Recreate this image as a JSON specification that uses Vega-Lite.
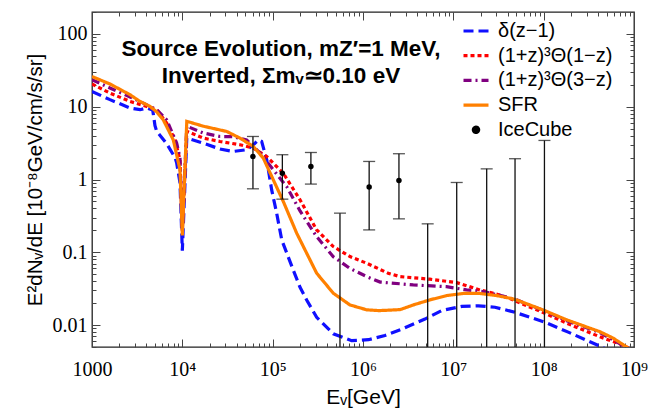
{
  "$schema": "https://vega.github.io/schema/vega-lite/v6.json",
  "width": 542,
  "height": 335,
  "autosize": {"type": "none"},
  "padding": {"left": 92, "top": 12, "right": 36, "bottom": 61},
  "background": "white",
  "title": {
    "text": ["Source Evolution, mZ′=1 MeV,", "Inverted, Σmᵥ≃0.10 eV"],
    "anchor": "middle",
    "frame": "group",
    "orient": "top",
    "baseline": "top",
    "offset": -27,
    "dx": -82,
    "dy": 58,
    "font": "Liberation Sans",
    "fontSize": 22.5,
    "fontWeight": "bold",
    "lineHeight": 27,
    "color": "black"
  },
  "datasets": {
    "curves": [
      {"series": "δ(z−1)", "E": 1000, "flux": 16.2},
      {"series": "δ(z−1)", "E": 1580, "flux": 12.5},
      {"series": "δ(z−1)", "E": 2640, "flux": 9.6},
      {"series": "δ(z−1)", "E": 3400, "flux": 9.1},
      {"series": "δ(z−1)", "E": 4030, "flux": 9.6},
      {"series": "δ(z−1)", "E": 4700, "flux": 9.0},
      {"series": "δ(z−1)", "E": 4980, "flux": 5.5},
      {"series": "δ(z−1)", "E": 5200, "flux": 4.6},
      {"series": "δ(z−1)", "E": 6710, "flux": 3.1},
      {"series": "δ(z−1)", "E": 8300, "flux": 2.0},
      {"series": "δ(z−1)", "E": 8650, "flux": 1.7},
      {"series": "δ(z−1)", "E": 9420, "flux": 0.9},
      {"series": "δ(z−1)", "E": 10000, "flux": 0.105},
      {"series": "δ(z−1)", "E": 11200, "flux": 3.7},
      {"series": "δ(z−1)", "E": 17060, "flux": 3.16},
      {"series": "δ(z−1)", "E": 26100, "flux": 2.62},
      {"series": "δ(z−1)", "E": 36600, "flux": 2.43},
      {"series": "δ(z−1)", "E": 51500, "flux": 2.56},
      {"series": "δ(z−1)", "E": 61100, "flux": 3.0},
      {"series": "δ(z−1)", "E": 69300, "flux": 3.5},
      {"series": "δ(z−1)", "E": 75500, "flux": 3.34},
      {"series": "δ(z−1)", "E": 85900, "flux": 1.87},
      {"series": "δ(z−1)", "E": 97500, "flux": 0.72},
      {"series": "δ(z−1)", "E": 110700, "flux": 0.345},
      {"series": "δ(z−1)", "E": 126000, "flux": 0.148},
      {"series": "δ(z−1)", "E": 169000, "flux": 0.057},
      {"series": "δ(z−1)", "E": 200900, "flux": 0.0331},
      {"series": "δ(z−1)", "E": 238000, "flux": 0.0221},
      {"series": "δ(z−1)", "E": 307000, "flux": 0.0128},
      {"series": "δ(z−1)", "E": 469000, "flux": 0.0076},
      {"series": "δ(z−1)", "E": 750000, "flux": 0.0061},
      {"series": "δ(z−1)", "E": 1150000, "flux": 0.0063},
      {"series": "δ(z−1)", "E": 1750000, "flux": 0.0072},
      {"series": "δ(z−1)", "E": 2680000, "flux": 0.0088},
      {"series": "δ(z−1)", "E": 4850000, "flux": 0.0121},
      {"series": "δ(z−1)", "E": 7400000, "flux": 0.0158},
      {"series": "δ(z−1)", "E": 12400000, "flux": 0.0181},
      {"series": "δ(z−1)", "E": 18900000, "flux": 0.0184},
      {"series": "δ(z−1)", "E": 28900000, "flux": 0.0176},
      {"series": "δ(z−1)", "E": 48000000, "flux": 0.015},
      {"series": "δ(z−1)", "E": 104000000, "flux": 0.0109},
      {"series": "δ(z−1)", "E": 187000000, "flux": 0.008},
      {"series": "δ(z−1)", "E": 440000000, "flux": 0.005},
      {"series": "δ(z−1)", "E": 600000000, "flux": 0.0041},

      {"series": "(1+z)³Θ(1−z)", "E": 1000, "flux": 20.5},
      {"series": "(1+z)³Θ(1−z)", "E": 1580, "flux": 15.4},
      {"series": "(1+z)³Θ(1−z)", "E": 2640, "flux": 11.8},
      {"series": "(1+z)³Θ(1−z)", "E": 4030, "flux": 10.1},
      {"series": "(1+z)³Θ(1−z)", "E": 5200, "flux": 9.1},
      {"series": "(1+z)³Θ(1−z)", "E": 6710, "flux": 5.97},
      {"series": "(1+z)³Θ(1−z)", "E": 8300, "flux": 3.5},
      {"series": "(1+z)³Θ(1−z)", "E": 9420, "flux": 1.87},
      {"series": "(1+z)³Θ(1−z)", "E": 10000, "flux": 0.2},
      {"series": "(1+z)³Θ(1−z)", "E": 11200, "flux": 4.6},
      {"series": "(1+z)³Θ(1−z)", "E": 17060, "flux": 3.7},
      {"series": "(1+z)³Θ(1−z)", "E": 26100, "flux": 3.33},
      {"series": "(1+z)³Θ(1−z)", "E": 43500, "flux": 3.0},
      {"series": "(1+z)³Θ(1−z)", "E": 61100, "flux": 2.7},
      {"series": "(1+z)³Θ(1−z)", "E": 85900, "flux": 2.07},
      {"series": "(1+z)³Θ(1−z)", "E": 131000, "flux": 1.22},
      {"series": "(1+z)³Θ(1−z)", "E": 200900, "flux": 0.526},
      {"series": "(1+z)³Θ(1−z)", "E": 307000, "flux": 0.203},
      {"series": "(1+z)³Θ(1−z)", "E": 469000, "flux": 0.12},
      {"series": "(1+z)³Θ(1−z)", "E": 718000, "flux": 0.0873},
      {"series": "(1+z)³Θ(1−z)", "E": 1100000, "flux": 0.0707},
      {"series": "(1+z)³Θ(1−z)", "E": 1900000, "flux": 0.0516},
      {"series": "(1+z)³Θ(1−z)", "E": 2570000, "flux": 0.0463},
      {"series": "(1+z)³Θ(1−z)", "E": 5500000, "flux": 0.0427},
      {"series": "(1+z)³Θ(1−z)", "E": 10900000, "flux": 0.0383},
      {"series": "(1+z)³Θ(1−z)", "E": 19700000, "flux": 0.0304},
      {"series": "(1+z)³Θ(1−z)", "E": 30000000, "flux": 0.0266},
      {"series": "(1+z)³Θ(1−z)", "E": 42400000, "flux": 0.0232},
      {"series": "(1+z)³Θ(1−z)", "E": 50300000, "flux": 0.021},
      {"series": "(1+z)³Θ(1−z)", "E": 100000000, "flux": 0.0148},
      {"series": "(1+z)³Θ(1−z)", "E": 180000000, "flux": 0.0106},
      {"series": "(1+z)³Θ(1−z)", "E": 420000000, "flux": 0.0069},
      {"series": "(1+z)³Θ(1−z)", "E": 760000000, "flux": 0.0053},
      {"series": "(1+z)³Θ(1−z)", "E": 900000000, "flux": 0.0047},

      {"series": "(1+z)³Θ(3−z)", "E": 1000, "flux": 23.5},
      {"series": "(1+z)³Θ(3−z)", "E": 1580, "flux": 18.1},
      {"series": "(1+z)³Θ(3−z)", "E": 2640, "flux": 13.6},
      {"series": "(1+z)³Θ(3−z)", "E": 3700, "flux": 11.2},
      {"series": "(1+z)³Θ(3−z)", "E": 5200, "flux": 9.1},
      {"series": "(1+z)³Θ(3−z)", "E": 6710, "flux": 6.6},
      {"series": "(1+z)³Θ(3−z)", "E": 8650, "flux": 3.17},
      {"series": "(1+z)³Θ(3−z)", "E": 9420, "flux": 2.0},
      {"series": "(1+z)³Θ(3−z)", "E": 10000, "flux": 0.2},
      {"series": "(1+z)³Θ(3−z)", "E": 11200, "flux": 5.4},
      {"series": "(1+z)³Θ(3−z)", "E": 17060, "flux": 4.35},
      {"series": "(1+z)³Θ(3−z)", "E": 26100, "flux": 3.9},
      {"series": "(1+z)³Θ(3−z)", "E": 36600, "flux": 3.87},
      {"series": "(1+z)³Θ(3−z)", "E": 51500, "flux": 3.5},
      {"series": "(1+z)³Θ(3−z)", "E": 72400, "flux": 2.31},
      {"series": "(1+z)³Θ(3−z)", "E": 101600, "flux": 1.36},
      {"series": "(1+z)³Θ(3−z)", "E": 143000, "flux": 0.8},
      {"series": "(1+z)³Θ(3−z)", "E": 200900, "flux": 0.37},
      {"series": "(1+z)³Θ(3−z)", "E": 307000, "flux": 0.164},
      {"series": "(1+z)³Θ(3−z)", "E": 469000, "flux": 0.087},
      {"series": "(1+z)³Θ(3−z)", "E": 718000, "flux": 0.06},
      {"series": "(1+z)³Θ(3−z)", "E": 1100000, "flux": 0.0463},
      {"series": "(1+z)³Θ(3−z)", "E": 1550000, "flux": 0.039},
      {"series": "(1+z)³Θ(3−z)", "E": 3600000, "flux": 0.0356},
      {"series": "(1+z)³Θ(3−z)", "E": 8400000, "flux": 0.0337},
      {"series": "(1+z)³Θ(3−z)", "E": 14000000, "flux": 0.0304},
      {"series": "(1+z)³Θ(3−z)", "E": 21500000, "flux": 0.0288},
      {"series": "(1+z)³Θ(3−z)", "E": 32900000, "flux": 0.0256},
      {"series": "(1+z)³Θ(3−z)", "E": 50300000, "flux": 0.0222},
      {"series": "(1+z)³Θ(3−z)", "E": 100000000, "flux": 0.0158},
      {"series": "(1+z)³Θ(3−z)", "E": 180000000, "flux": 0.0115},
      {"series": "(1+z)³Θ(3−z)", "E": 420000000, "flux": 0.0079},
      {"series": "(1+z)³Θ(3−z)", "E": 830000000, "flux": 0.0049},
      {"series": "(1+z)³Θ(3−z)", "E": 900000000, "flux": 0.0045},

      {"series": "SFR", "E": 1000, "flux": 26},
      {"series": "SFR", "E": 1580, "flux": 20.5},
      {"series": "SFR", "E": 2640, "flux": 14.6},
      {"series": "SFR", "E": 3400, "flux": 11.8},
      {"series": "SFR", "E": 4390, "flux": 10.1},
      {"series": "SFR", "E": 5200, "flux": 8.5},
      {"series": "SFR", "E": 6150, "flux": 6.6},
      {"series": "SFR", "E": 7940, "flux": 3.5},
      {"series": "SFR", "E": 9420, "flux": 1.36},
      {"series": "SFR", "E": 10000, "flux": 0.17},
      {"series": "SFR", "E": 11200, "flux": 6.3},
      {"series": "SFR", "E": 17060, "flux": 5.4},
      {"series": "SFR", "E": 31000, "flux": 4.57},
      {"series": "SFR", "E": 43500, "flux": 3.7},
      {"series": "SFR", "E": 61100, "flux": 2.84},
      {"series": "SFR", "E": 78700, "flux": 1.97},
      {"series": "SFR", "E": 101600, "flux": 0.99},
      {"series": "SFR", "E": 131000, "flux": 0.5},
      {"series": "SFR", "E": 184500, "flux": 0.183},
      {"series": "SFR", "E": 307000, "flux": 0.0516},
      {"series": "SFR", "E": 469000, "flux": 0.0274},
      {"series": "SFR", "E": 718000, "flux": 0.0189},
      {"series": "SFR", "E": 1100000, "flux": 0.0162},
      {"series": "SFR", "E": 1500000, "flux": 0.0158},
      {"series": "SFR", "E": 2570000, "flux": 0.0163},
      {"series": "SFR", "E": 3600000, "flux": 0.0189},
      {"series": "SFR", "E": 5500000, "flux": 0.0222},
      {"series": "SFR", "E": 8400000, "flux": 0.0254},
      {"series": "SFR", "E": 12900000, "flux": 0.0272},
      {"series": "SFR", "E": 19700000, "flux": 0.0272},
      {"series": "SFR", "E": 30200000, "flux": 0.0254},
      {"series": "SFR", "E": 42400000, "flux": 0.0234},
      {"series": "SFR", "E": 50300000, "flux": 0.0221},
      {"series": "SFR", "E": 99000000, "flux": 0.0161},
      {"series": "SFR", "E": 180000000, "flux": 0.0118},
      {"series": "SFR", "E": 420000000, "flux": 0.0081},
      {"series": "SFR", "E": 590000000, "flux": 0.0066},
      {"series": "SFR", "E": 830000000, "flux": 0.005},
      {"series": "SFR", "E": 900000000, "flux": 0.0045}
    ],
    "icecube": [
      {"E": 60500, "flux": 2.07, "lo": 0.745, "hi": 3.9},
      {"E": 128000, "flux": 1.22, "lo": 0.537, "hi": 2.19},
      {"E": 265000, "flux": 1.51, "lo": 0.865, "hi": 2.35},
      {"E": 556000, "flux": null, "lo": 0.001, "hi": 0.345},
      {"E": 1170000, "flux": 0.786, "lo": 0.203, "hi": 1.77},
      {"E": 2500000, "flux": 0.97, "lo": 0.288, "hi": 2.26},
      {"E": 5200000, "flux": null, "lo": 0.001, "hi": 0.246},
      {"E": 10900000, "flux": null, "lo": 0.001, "hi": 0.91},
      {"E": 23400000, "flux": null, "lo": 0.001, "hi": 1.4},
      {"E": 48200000, "flux": null, "lo": 0.001, "hi": 1.93},
      {"E": 102000000, "flux": null, "lo": 0.001, "hi": 3.44}
    ]
  },
  "resolve": {"axis": {"x": "independent", "y": "independent"}},
  "layer": [
    {
      "data": {"name": "curves"},
      "mark": {"type": "line", "clip": true, "strokeCap": "butt"},
      "encoding": {
        "x": {
          "field": "E", "type": "quantitative",
          "scale": {"type": "log", "domain": [1000, 1000000000], "nice": false},
          "axis": {
            "orient": "bottom",
            "values": [1000,2000,3000,4000,5000,6000,7000,8000,9000,10000,20000,30000,40000,50000,60000,70000,80000,90000,100000,200000,300000,400000,500000,600000,700000,800000,900000,1000000,2000000,3000000,4000000,5000000,6000000,7000000,8000000,9000000,10000000,20000000,30000000,40000000,50000000,60000000,70000000,80000000,90000000,100000000,200000000,300000000,400000000,500000000,600000000,700000000,800000000,900000000,1000000000],
            "labelExpr": "datum.value==1000?'1000':datum.value==10000?'10⁴':datum.value==100000?'10⁵':datum.value==1000000?'10⁶':datum.value==10000000?'10⁷':datum.value==100000000?'10⁸':datum.value==1000000000?'10⁹':''",
            "tickSize": {"condition": {"test": "abs(log(datum.value)/LN10 - round(log(datum.value)/LN10)) < 0.000001", "value": -8}, "value": -4},
            "tickColor": "#444",
            "tickWidth": 1,
            "domain": false,
            "grid": false,
            "labelPadding": 20,
            "labelFont": "Liberation Serif",
            "labelFontSize": 20,
            "labelColor": "black",
            "labelOverlap": false,
            "labelFlush": false,
            "labelBound": false,
            "title": "Eᵥ[GeV]",
            "titleFont": "Liberation Sans",
            "titleFontSize": 21,
            "titleFontWeight": "normal",
            "titleColor": "black",
            "titlePadding": 3
          }
        },
        "y": {
          "field": "flux", "type": "quantitative",
          "scale": {"type": "log", "domain": [0.005, 200], "nice": false},
          "axis": {
            "orient": "left",
            "values": [0.005,0.006,0.007,0.008,0.009,0.01,0.02,0.03,0.04,0.05,0.06,0.07,0.08,0.09,0.1,0.2,0.3,0.4,0.5,0.6,0.7,0.8,0.9,1,2,3,4,5,6,7,8,9,10,20,30,40,50,60,70,80,90,100,200],
            "labelExpr": "datum.value==100?'100':datum.value==10?'10':datum.value==1?'1':datum.value==0.1?'0.1':datum.value==0.01?'0.01':''",
            "tickSize": {"condition": {"test": "abs(log(datum.value)/LN10 - round(log(datum.value)/LN10)) < 0.000001", "value": -8}, "value": -4},
            "tickColor": "#444",
            "tickWidth": 1,
            "domain": false,
            "grid": false,
            "labelPadding": 13,
            "labelFont": "Liberation Serif",
            "labelFontSize": 20,
            "labelColor": "black",
            "labelOverlap": false,
            "labelFlush": false,
            "labelBound": false,
            "title": "E²dNᵥ/dE [10⁻⁸GeV/cm/s/sr]",
            "titleFont": "Liberation Sans",
            "titleFontSize": 20.5,
            "titleFontWeight": "normal",
            "titleColor": "black",
            "titlePadding": 7
          }
        },
        "color": {
          "field": "series", "type": "nominal",
          "scale": {
            "domain": ["δ(z−1)", "(1+z)³Θ(1−z)", "(1+z)³Θ(3−z)", "SFR", "IceCube"],
            "range": ["#1010ff", "#ff0000", "#800080", "#ff8000", "#000000"]
          },
          "legend": {
            "orient": "none",
            "legendX": 372,
            "legendY": 7,
            "title": null,
            "padding": 0,
            "labelFont": "Liberation Sans",
            "labelFontSize": 20,
            "labelColor": "black",
            "labelLimit": 300,
            "labelOffset": 10,
            "rowPadding": 2.7,
            "symbolSize": 400,
            "symbolType": "M-1.25,0L1.25,0",
            "symbolStrokeWidth": 3,
            "encode": {
              "symbols": {
                "update": {
                  "shape": {"signal": "datum.value === 'IceCube' ? 'circle' : 'M-1.25,0L1.25,0'"},
                  "size": {"signal": "datum.value === 'IceCube' ? 28 : 400"},
                  "fill": {"signal": "datum.value === 'IceCube' ? 'black' : 'transparent'"},
                  "strokeWidth": {"signal": "datum.value === 'IceCube' ? 0 : datum.value === 'SFR' ? 2.2 : 3"}
                }
              }
            }
          }
        },
        "strokeDash": {
          "field": "series", "type": "nominal",
          "scale": {
            "domain": ["δ(z−1)", "(1+z)³Θ(1−z)", "(1+z)³Θ(3−z)", "SFR", "IceCube"],
            "range": [[10, 5], [4, 3], [8, 4, 2, 4], [1, 0], [1, 0]]
          },
          "legend": {
            "orient": "none",
            "legendX": 372,
            "legendY": 7,
            "title": null,
            "padding": 0,
            "labelFont": "Liberation Sans",
            "labelFontSize": 20,
            "labelColor": "black",
            "labelLimit": 300,
            "labelOffset": 10,
            "rowPadding": 2.7,
            "symbolSize": 400,
            "symbolType": "M-1.25,0L1.25,0",
            "symbolStrokeWidth": 3
          }
        },
        "strokeWidth": {
          "field": "series", "type": "nominal",
          "scale": {
            "domain": ["δ(z−1)", "(1+z)³Θ(1−z)", "(1+z)³Θ(3−z)", "SFR", "IceCube"],
            "range": [3.2, 3.2, 2.6, 2.2, 1]
          },
          "legend": null
        }
      }
    },
    {
      "data": {"name": "icecube"},
      "mark": {"type": "rule", "clip": true, "color": "#111", "strokeWidth": 1.3},
      "encoding": {
        "x": {
          "field": "E", "type": "quantitative",
          "scale": {"type": "log", "domain": [1000, 1000000000], "nice": false},
          "axis": {
            "orient": "top",
            "values": [1000,2000,3000,4000,5000,6000,7000,8000,9000,10000,20000,30000,40000,50000,60000,70000,80000,90000,100000,200000,300000,400000,500000,600000,700000,800000,900000,1000000,2000000,3000000,4000000,5000000,6000000,7000000,8000000,9000000,10000000,20000000,30000000,40000000,50000000,60000000,70000000,80000000,90000000,100000000,200000000,300000000,400000000,500000000,600000000,700000000,800000000,900000000,1000000000],
            "labels": false,
            "tickSize": {"condition": {"test": "abs(log(datum.value)/LN10 - round(log(datum.value)/LN10)) < 0.000001", "value": -8}, "value": -4},
            "tickColor": "#444",
            "tickWidth": 1,
            "domain": false,
            "grid": false,
            "title": null
          }
        },
        "y": {
          "field": "lo", "type": "quantitative",
          "scale": {"type": "log", "domain": [0.005, 200], "nice": false},
          "axis": {
            "orient": "right",
            "values": [0.005,0.006,0.007,0.008,0.009,0.01,0.02,0.03,0.04,0.05,0.06,0.07,0.08,0.09,0.1,0.2,0.3,0.4,0.5,0.6,0.7,0.8,0.9,1,2,3,4,5,6,7,8,9,10,20,30,40,50,60,70,80,90,100,200],
            "labels": false,
            "tickSize": {"condition": {"test": "abs(log(datum.value)/LN10 - round(log(datum.value)/LN10)) < 0.000001", "value": -8}, "value": -4},
            "tickColor": "#444",
            "tickWidth": 1,
            "domain": false,
            "grid": false,
            "title": null
          }
        },
        "y2": {"field": "hi"}
      }
    },
    {
      "data": {"name": "icecube"},
      "mark": {"type": "tick", "orient": "horizontal", "clip": true, "color": "#111", "size": 12, "thickness": 1.3},
      "encoding": {
        "x": {"field": "E", "type": "quantitative", "scale": {"type": "log", "domain": [1000, 1000000000], "nice": false}, "axis": null},
        "y": {"field": "hi", "type": "quantitative", "scale": {"type": "log", "domain": [0.005, 200], "nice": false}, "axis": null}
      }
    },
    {
      "data": {"name": "icecube"},
      "transform": [{"filter": "datum.flux != null"}],
      "mark": {"type": "tick", "orient": "horizontal", "clip": true, "color": "#111", "size": 12, "thickness": 1.3},
      "encoding": {
        "x": {"field": "E", "type": "quantitative", "scale": {"type": "log", "domain": [1000, 1000000000], "nice": false}, "axis": null},
        "y": {"field": "lo", "type": "quantitative", "scale": {"type": "log", "domain": [0.005, 200], "nice": false}, "axis": null}
      }
    },
    {
      "data": {"name": "icecube"},
      "transform": [{"filter": "datum.flux != null"}],
      "mark": {"type": "point", "filled": true, "color": "black", "size": 30, "opacity": 1},
      "encoding": {
        "x": {"field": "E", "type": "quantitative", "scale": {"type": "log", "domain": [1000, 1000000000], "nice": false}, "axis": null},
        "y": {"field": "flux", "type": "quantitative", "scale": {"type": "log", "domain": [0.005, 200], "nice": false}, "axis": null}
      }
    }
  ],
  "config": {
    "view": {"stroke": "#222", "strokeWidth": 1.3},
    "font": "Liberation Sans"
  }
}
